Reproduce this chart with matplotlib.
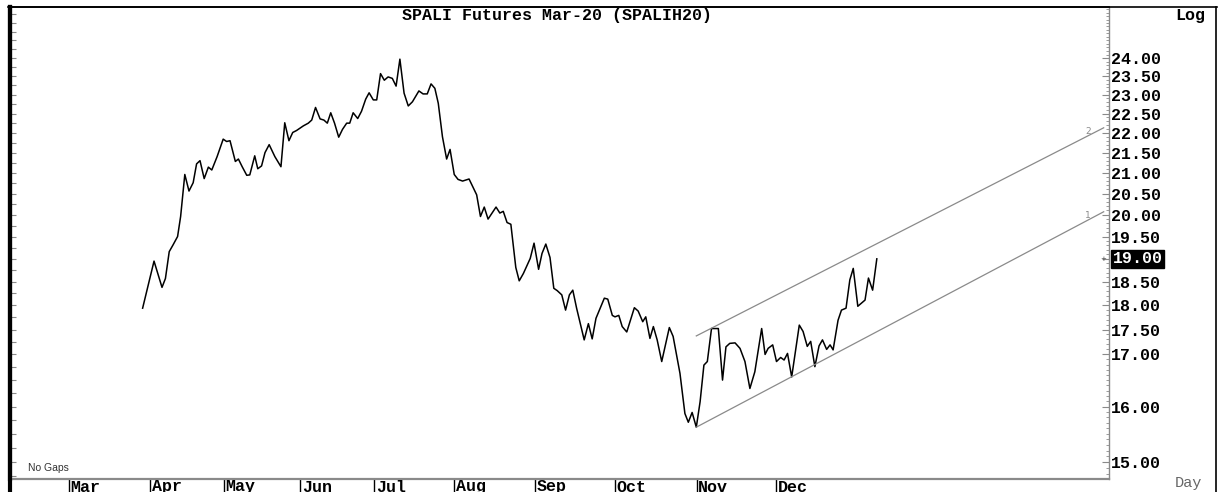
import numpy as np
import matplotlib
matplotlib.use("Agg")
import matplotlib.pyplot as plt
from matplotlib.lines import Line2D
from matplotlib.ticker import FixedLocator, FuncFormatter, MultipleLocator, NullFormatter

# trading-day index (0 = first session of March) and closing prices
days = [19.4, 22.4, 24.5, 25.4, 26.4, 27.4, 28.6, 29.4, 30.5, 31.6,
        32.7, 33.6, 34.5, 35.6, 36.7, 37.6, 39.0, 40.6, 41.5, 42.4,
        43.8, 44.6, 45.6, 46.8, 47.6, 48.9, 49.7, 50.7, 51.6, 52.7,
        54.2, 55.8, 56.8, 57.9, 58.9, 59.9, 61.7, 63.0, 63.9, 64.9,
        66.1, 67.1, 68.0, 68.9, 69.9, 71.0, 72.0, 73.1, 73.9, 74.8,
        76.0, 77.0, 78.1, 79.0, 80.1, 81.0, 82.0, 83.0, 84.0, 85.1,
        86.1, 87.1, 88.2, 89.3, 90.4, 92.1, 93.2, 94.3, 95.3, 96.3,
        97.2, 98.3, 99.4, 100.3, 101.4, 102.4, 103.6, 105.3, 107.3, 108.3,
        109.3, 110.3, 112.4, 113.4, 114.3, 115.3, 116.3, 117.6, 118.5, 119.6,
        121.4, 122.4, 123.6, 124.5, 125.5, 126.6, 127.6, 128.5, 129.7, 130.7,
        131.7, 132.6, 133.6, 135.6, 136.7, 137.7, 138.7, 140.9, 141.8, 143.0,
        143.7, 144.7, 145.6, 146.8, 148.8, 149.8, 151.0, 151.8, 152.9, 153.8,
        154.8, 156.0, 158.0, 159.0, 160.8, 162.1, 163.0, 164.0, 165.1, 166.1,
        167.1, 168.0, 169.1, 170.9, 172.0, 172.9, 173.9, 175.3, 176.6, 177.9,
        179.2, 180.5, 182.3, 183.2, 184.0, 185.2, 186.2, 187.3, 188.2, 189.1,
        190.2, 192.2, 193.2, 194.3, 195.2, 196.3, 197.4, 198.3, 199.4, 200.3,
        201.1, 202.4, 203.3, 204.5, 205.5, 206.4, 207.6, 209.5, 210.4, 211.5, 212.6]
prices = [17.94, 18.95, 18.38, 18.57, 19.16, 19.31, 19.50, 19.96, 20.96, 20.56,
          20.76, 21.22, 21.30, 20.86, 21.14, 21.07, 21.40, 21.84, 21.78, 21.80,
          21.28, 21.34, 21.15, 20.94, 20.95, 21.42, 21.10, 21.17, 21.50, 21.70,
          21.40, 21.15, 22.26, 21.80, 22.01, 22.06, 22.18, 22.25, 22.33, 22.66,
          22.36, 22.33, 22.25, 22.52, 22.25, 21.89, 22.09, 22.25, 22.25, 22.52,
          22.37, 22.56, 22.88, 23.05, 22.86, 22.86, 23.57, 23.39, 23.48, 23.44,
          23.23, 23.97, 23.04, 22.70, 22.81, 23.10, 23.02, 23.02, 23.29, 23.17,
          22.77, 21.90, 21.34, 21.58, 20.96, 20.84, 20.80, 20.85, 20.47, 19.96,
          20.18, 19.90, 20.18, 20.04, 20.08, 19.82, 19.78, 18.81, 18.52, 18.68,
          19.01, 19.35, 18.77, 19.12, 19.33, 19.03, 18.36, 18.31, 18.22, 17.90,
          18.22, 18.32, 17.94, 17.29, 17.62, 17.31, 17.73, 18.15, 18.13, 17.79,
          17.76, 17.79, 17.56, 17.45, 17.95, 17.88, 17.66, 17.76, 17.32, 17.56,
          17.29, 16.86, 17.54, 17.36, 16.63, 15.87, 15.71, 15.89, 15.62, 16.09,
          16.79, 16.86, 17.52, 17.52, 16.50, 17.15, 17.22, 17.23, 17.12, 16.86,
          16.34, 16.66, 17.52, 17.00, 17.12, 17.19, 16.86, 16.94, 16.89, 17.02,
          16.56, 17.59, 17.46, 17.16, 17.26, 16.76, 17.17, 17.29, 17.10, 17.19,
          17.09, 17.69, 17.90, 17.94, 18.54, 18.79, 17.98, 18.11, 18.58, 18.32, 19.00]

# trend channel (start / end)
chan_days = [165.1, 272.3]
chan_upper = [17.37, 22.13]
chan_lower = [15.62, 20.07]

month_labels = ["Mar", "Apr", "May", "Jun", "Jul", "Aug", "Sep", "Oct", "Nov", "Dec"]
month_starts = [0, 21.4, 40.8, 60.9, 80.3, 101.3, 122.6, 143.7, 165.2, 186.2]

price_ticks = [15, 16, 17, 17.5, 18, 18.5, 19, 19.5, 20, 20.5, 21, 21.5,
               22, 22.5, 23, 23.5, 24]

W, H = 1219, 492
fig = plt.figure(figsize=(W / 100, H / 100), dpi=100)
ax = fig.add_axes([10 / W, 1 - 479 / H, 1099 / W, 472 / H])

mono = "Liberation Mono"
grey = "#8a8a8a"

# price line and channel
ax.plot(days, prices, color="black", lw=1.1)
ax.plot(chan_days, chan_upper, color=grey, lw=0.9)
ax.plot(chan_days, chan_lower, color=grey, lw=0.9)

ax.set_yscale("log")
ax.set_ylim(14.706, 25.47)
ax.set_xlim(-15.5, 273.7)

# channel numbers just above the right ends
lab_x = 268.2
for name, vals in [("2", chan_upper), ("1", chan_lower)]:
    yv = np.exp(np.interp(lab_x, chan_days, np.log(vals)))
    ax.text(lab_x, yv, name, fontsize=6.5, color=grey, ha="center", va="bottom",
            family="DejaVu Sans")

# spines
ax.spines["left"].set_linewidth(3)
ax.spines["left"].set_color("black")
ax.spines["top"].set_linewidth(1.2)
ax.spines["top"].set_color("black")
ax.spines["right"].set_color(grey)
ax.spines["right"].set_linewidth(1)
ax.spines["bottom"].set_color(grey)
ax.spines["bottom"].set_linewidth(1.6)

# left: small inner ticks only
ax.yaxis.set_major_locator(MultipleLocator(0.25))
ax.yaxis.set_minor_locator(FixedLocator([]))
ax.yaxis.set_major_formatter(NullFormatter())
ax.yaxis.set_minor_formatter(NullFormatter())
ax.tick_params(axis="y", which="major", direction="in", length=4, width=0.8,
               color=grey, left=True, right=False)

# right price scale
ax2 = ax.twinx()
ax2.set_yscale("log")
ax2.set_ylim(ax.get_ylim())
for s in ax2.spines.values():
    s.set_visible(False)
last = prices[-1]
ax2.yaxis.set_major_locator(FixedLocator(price_ticks))
ax2.yaxis.set_major_formatter(FuncFormatter(lambda v, p: "" if abs(v - last) < 1e-6 else f"{v:.2f}"))
ax2.yaxis.set_minor_locator(MultipleLocator(0.1))
ax2.yaxis.set_minor_formatter(NullFormatter())
ax2.tick_params(axis="y", which="major", direction="in", length=5, width=0.8,
                color=grey, pad=1.5, labelsize=12)
ax2.tick_params(axis="y", which="minor", direction="in", length=2.5, width=0.6, color=grey)
for t in ax2.get_yticklabels():
    t.set_fontfamily(mono)
    t.set_fontweight("bold")
    t.set_horizontalalignment("left")

# last price highlight
ax2.annotate(f"{last:.2f}", xy=(1, last), xycoords=("axes fraction", "data"),
             xytext=(2.5, 0), textcoords="offset points", ha="left", va="center",
             fontsize=12, family=mono, weight="bold", color="white",
             bbox=dict(boxstyle="square,pad=0.08", fc="black", ec="black"))
ax2.annotate("+", xy=(1, last), xycoords=("axes fraction", "data"),
             xytext=(-4, 0), textcoords="offset points", ha="center", va="center",
             fontsize=5, color="#444444")

# month separators and labels below the axis (cut at the image edge like the source)
ax.set_xticks(month_starts)
ax.set_xticklabels([])
ax.tick_params(axis="x", direction="out", length=11, width=1, color="black")
for pos, lab in zip(month_starts, month_labels):
    ax.annotate(lab, xy=(pos, 0), xycoords=("data", "axes fraction"),
                xytext=(1.2, -9.0), textcoords="offset points", ha="left", va="baseline",
                fontsize=12, family=mono, weight="bold", annotation_clip=False)

ax.text(18 / 1099, 0.012, "No Gaps", transform=ax.transAxes,
        fontsize=7.5, family="Liberation Sans", color="#333333", ha="left", va="bottom")

# title and corner texts
fig.text(556.7 / W, 1 - 15.5 / H, "SPALI Futures Mar-20 (SPALIH20)", ha="center", va="center",
         fontsize=12, family=mono, weight="bold")
fig.text(1190 / W, 1 - 15.5 / H, "Log", ha="center", va="center",
         fontsize=12, family=mono, weight="bold")
fig.text(1188 / W, 1 - 483 / H, "Day", ha="center", va="center",
         fontsize=11, family=mono, color="#666666")

# outer frame
fig.add_artist(Line2D([8 / W, 1217 / W], [1 - 7 / H, 1 - 7 / H], color="black", lw=1.2))
fig.add_artist(Line2D([1216 / W, 1216 / W], [0, 1 - 7 / H], color="black", lw=1.2))
fig.add_artist(Line2D([9.5 / W, 9.5 / W], [0, 1 - 7 / H], color="black", lw=3))

fig.savefig("out.png", dpi=100)
